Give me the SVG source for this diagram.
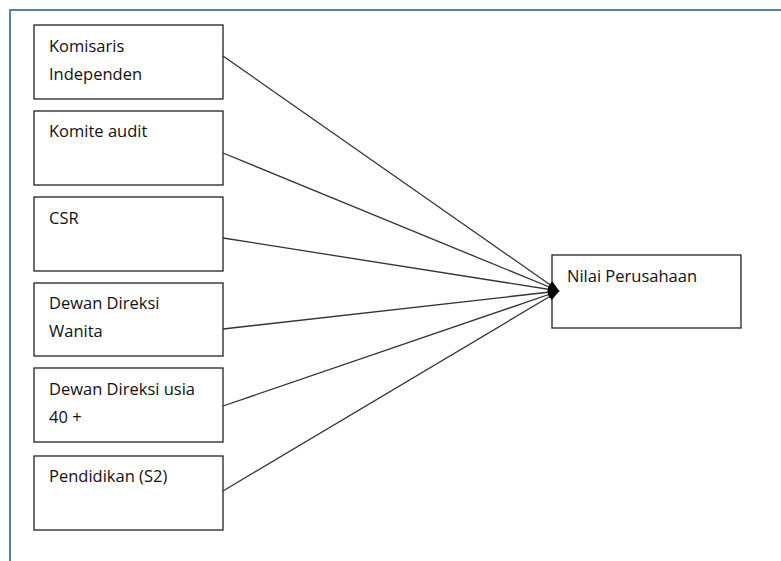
<svg xmlns="http://www.w3.org/2000/svg" width="781" height="561" viewBox="0 0 781 561">
<style>
.frame{fill:none;stroke:#4f81bd;stroke-width:2}
.box{fill:#fff;stroke:#222;stroke-width:1.3}
.lbl{font-family:"Open Sans","Liberation Sans",sans-serif;font-size:16.5px;fill:#111}
.con{stroke:#333;stroke-width:1.3;fill:none;marker-end:url(#ah)}
</style>
<defs>
<marker id="ah" viewBox="0 0 10 10" refX="9.5" refY="5" markerWidth="9" markerHeight="9" orient="auto" markerUnits="strokeWidth">
<path d="M0,1.5 L10,5 L0,8.5 z" fill="#000"/>
</marker>
</defs>
<rect width="781" height="561" fill="#fff"/>
<path class="frame" d="M10,561 V10 H781"/>
<g id="n1"><rect class="box" x="34" y="25" width="189" height="74"/><text class="lbl" x="49" y="52">Komisaris</text><text class="lbl" x="49" y="80">Independen</text></g>
<g id="n2"><rect class="box" x="34" y="111" width="189" height="74"/><text class="lbl" x="49" y="137">Komite audit</text></g>
<g id="n3"><rect class="box" x="34" y="197" width="189" height="74"/><text class="lbl" x="49" y="224">CSR</text></g>
<g id="n4"><rect class="box" x="34" y="283" width="189" height="73"/><text class="lbl" x="49" y="309">Dewan Direksi</text><text class="lbl" x="49" y="337">Wanita</text></g>
<g id="n5"><rect class="box" x="34" y="368" width="189" height="74"/><text class="lbl" x="49" y="395">Dewan Direksi usia</text><text class="lbl" x="49" y="423">40 +</text></g>
<g id="n6"><rect class="box" x="34" y="456" width="189" height="74"/><text class="lbl" x="49" y="482">Pendidikan (S2)</text></g>
<g id="n7"><rect class="box" x="552" y="255" width="189" height="73"/><text class="lbl" x="567" y="282">Nilai Perusahaan</text></g>
<g id="connectors">
<line class="con" x1="223" y1="56" x2="559" y2="291"/>
<line class="con" x1="223" y1="153" x2="559" y2="291"/>
<line class="con" x1="223" y1="238" x2="559" y2="291"/>
<line class="con" x1="223" y1="329" x2="559" y2="291"/>
<line class="con" x1="223" y1="406" x2="559" y2="291"/>
<line class="con" x1="223" y1="491" x2="559" y2="291"/>
</g>
</svg>
